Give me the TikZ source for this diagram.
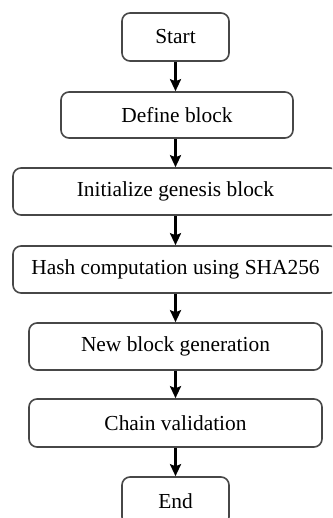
\documentclass[tikz,border=0pt]{standalone}
\usepackage{fontspec}
\setmainfont{Liberation Serif}
\usetikzlibrary{arrows.meta}
\begin{document}
\begin{tikzpicture}[x=1pt,y=1pt,
  stepbox/.style={draw=black!72, line width=1.6pt, rounded corners=8pt,
    fill=white, inner sep=0pt, font=\fontsize{21.4}{25}\selectfont},
  flow/.style={line width=2.4pt, draw=black,
    -{Stealth[length=12pt,width=11pt,inset=2pt]}}]
  % page frame
  \clip (0,0) rectangle (332,-518);
  \fill[white] (0,0) rectangle (332,-518);

  % process steps
  \node[stepbox, minimum width=107pt, minimum height=48pt] (start) at (175.5,-37) {Start};
  \node[stepbox, minimum width=232pt, minimum height=46pt] (define) at (177,-115) {Define block};
  \node[stepbox, minimum width=325pt, minimum height=47pt] (init) at (175.5,-191.5) {Initialize genesis block};
  \node[stepbox, minimum width=325pt, minimum height=47pt] (hash) at (175.5,-269.5) {Hash computation using SHA256};
  \node[stepbox, minimum width=293pt, minimum height=47pt] (newblk) at (175.5,-346.5) {New block generation};
  \node[stepbox, minimum width=293pt, minimum height=48pt] (chain) at (175.5,-423) {Chain validation};
  \node[stepbox, minimum width=107pt, minimum height=48pt] (stop) at (175.5,-501) {End};

  % connectors
  \draw[flow] (start.south) -- (define.north -| start.south);
  \draw[flow] (define.south -| start.south) -- (init.north -| start.south);
  \draw[flow] (init.south) -- (hash.north);
  \draw[flow] (hash.south) -- (newblk.north);
  \draw[flow] (newblk.south) -- (chain.north);
  \draw[flow] (chain.south) -- (stop.north);
\end{tikzpicture}
\end{document}
